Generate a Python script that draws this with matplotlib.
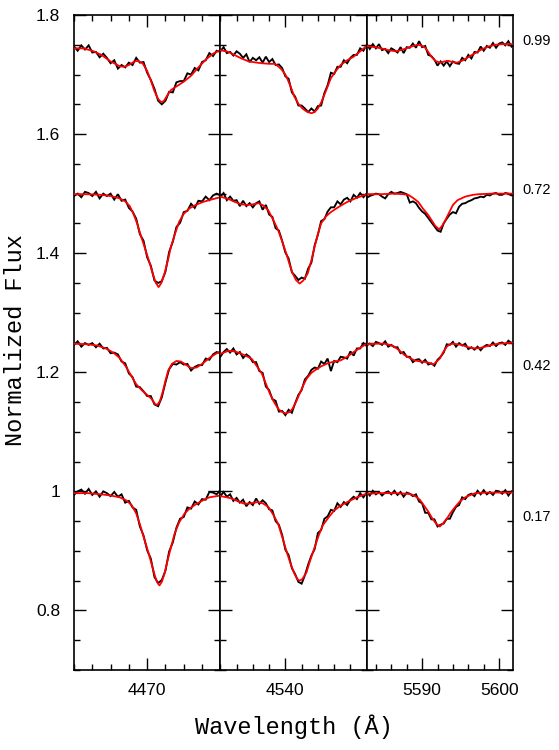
import numpy as np
import matplotlib
matplotlib.use("Agg")
import matplotlib.pyplot as plt
from matplotlib.ticker import MultipleLocator, FixedLocator, FuncFormatter
import matplotlib.transforms as mtransforms

plt.rcParams['font.family'] = ['Liberation Sans', 'DejaVu Sans']

# ---------------- data ----------------
phases = ["0.99", "0.72", "0.42", "0.17"]
phase_label_y = [1.757, 1.506, 1.210, 0.957]

panel_xlim = [(4462.0, 4478.0), (4532.0, 4550.0), (5582.8, 5601.8)]
panel_major_ticks = [[4470], [4540], [5590, 5600]]

# observed pixel grids (0.4 A sampling)
obs_w1 = np.round(np.arange(4462.0, 4478.001, 0.4), 1)
obs_w2 = np.round(np.arange(4532.0, 4550.001, 0.4), 1)
obs_w3 = np.round(np.arange(5582.8, 5602.001, 0.4), 1)

# ---- He I 4471 panel ----
obs1_099 = [1.747,1.740,1.749,1.742,1.749,1.737,1.738,1.729,1.735,1.728,1.719,1.724,1.710,1.716,1.712,1.720,1.716,1.728,1.720,1.721,
            1.703,1.691,1.676,1.656,1.650,1.656,1.671,1.670,1.687,1.689,1.689,1.702,1.700,1.711,1.707,1.721,1.724,1.736,1.731,1.740,1.738]
obs1_072 = [1.496,1.500,1.494,1.503,1.501,1.496,1.503,1.492,1.500,1.496,1.500,1.490,1.499,1.488,1.490,1.476,1.470,1.458,1.432,1.421,
            1.393,1.379,1.354,1.350,1.353,1.369,1.402,1.419,1.444,1.451,1.469,1.471,1.483,1.476,1.488,1.487,1.495,1.489,1.497,1.500,1.497]
obs1_042 = [1.246,1.252,1.243,1.249,1.246,1.249,1.242,1.248,1.240,1.241,1.232,1.233,1.230,1.218,1.215,1.198,1.192,1.176,1.175,1.168,
            1.160,1.160,1.146,1.143,1.158,1.183,1.205,1.214,1.213,1.217,1.213,1.214,1.203,1.209,1.212,1.212,1.223,1.221,1.230,1.234,1.232]
obs1_017 = [0.994,1.000,1.003,0.996,1.004,0.994,1.000,0.991,1.000,0.997,0.992,0.999,0.991,0.995,0.981,0.984,0.973,0.969,0.941,0.926,
            0.901,0.887,0.856,0.846,0.851,0.867,0.899,0.914,0.939,0.954,0.957,0.973,0.971,0.983,0.978,0.987,0.986,0.999,0.998,0.995,1.002]

mod1_099_w = [4462.0,4463.0,4464.0,4465.0,4466.0,4467.0,4467.5,4468.0,4468.6,4469.0,4469.5,4470.0,4470.4,4470.8,4471.2,4471.5,4471.8,
              4472.2,4472.6,4473.2,4474.0,4474.8,4475.6,4476.4,4477.2,4478.0]
mod1_099_f = [1.744,1.744,1.740,1.733,1.722,1.714,1.713,1.716,1.722,1.723,1.719,1.706,1.690,1.672,1.659,1.654,1.655,
              1.665,1.674,1.680,1.688,1.698,1.712,1.725,1.735,1.741]
mod1_072_w = [4462.0,4463.5,4465.0,4466.0,4467.0,4467.6,4468.1,4468.5,4468.9,4469.3,4469.7,4470.2,4470.6,4470.95,4471.25,4471.55,
              4471.9,4472.3,4472.6,4473.1,4473.5,4474.0,4474.6,4475.3,4476.1,4477.0,4478.0]
mod1_072_f = [1.499,1.499,1.498,1.496,1.492,1.487,1.479,1.466,1.450,1.430,1.411,1.387,1.366,1.350,1.343,1.350,
              1.366,1.390,1.411,1.435,1.453,1.466,1.475,1.481,1.486,1.490,1.494]
mod1_042_w = [4462.0,4463.5,4464.5,4465.5,4466.3,4467.0,4467.7,4468.3,4468.8,4469.4,4470.0,4470.5,4470.85,4471.1,4471.4,4471.7,
              4472.0,4472.3,4472.7,4473.2,4473.7,4474.2,4474.8,4475.4,4476.1,4476.8,4477.5,4478.0]
mod1_042_f = [1.248,1.247,1.245,1.240,1.233,1.224,1.209,1.193,1.180,1.170,1.162,1.155,1.147,1.145,1.152,1.167,
              1.186,1.203,1.214,1.219,1.218,1.213,1.207,1.208,1.215,1.224,1.231,1.235]
mod1_017_w = [4462.0,4463.5,4465.0,4466.0,4467.0,4467.7,4468.3,4468.8,4469.2,4469.6,4470.1,4470.5,4470.85,4471.1,4471.35,4471.6,
              4471.9,4472.2,4472.6,4473.0,4473.5,4474.1,4474.7,4475.4,4476.1,4476.8,4478.0]
mod1_017_f = [0.997,0.997,0.995,0.993,0.990,0.985,0.977,0.963,0.945,0.924,0.899,0.877,0.858,0.847,0.842,0.848,
              0.862,0.882,0.906,0.929,0.948,0.963,0.972,0.979,0.985,0.990,0.993]

# ---- He II 4541 panel ----
obs2_099 = [1.739,1.746,1.736,1.738,1.732,1.739,1.735,1.728,1.734,1.721,1.728,1.724,1.729,1.720,1.730,1.721,1.726,1.716,1.717,1.711,
            1.697,1.693,1.670,1.663,1.648,1.648,1.643,1.637,1.643,1.638,1.647,1.648,1.669,1.682,1.703,1.701,1.713,1.713,1.724,1.719,
            1.728,1.733,1.733,1.744,1.740,1.750]
obs2_072 = [1.495,1.501,1.489,1.495,1.488,1.489,1.479,1.488,1.479,1.484,1.477,1.484,1.487,1.473,1.481,1.465,1.461,1.442,1.438,1.421,
            1.401,1.391,1.368,1.362,1.355,1.359,1.357,1.374,1.384,1.413,1.431,1.454,1.457,1.470,1.477,1.477,1.487,1.482,1.490,1.493,
            1.487,1.498,1.493,1.501,1.494,1.500]
obs2_042 = [1.226,1.234,1.239,1.233,1.240,1.230,1.234,1.224,1.230,1.226,1.217,1.217,1.202,1.199,1.176,1.170,1.155,1.152,1.134,1.135,
            1.128,1.137,1.132,1.148,1.162,1.170,1.188,1.194,1.204,1.208,1.206,1.218,1.214,1.223,1.202,1.219,1.217,1.226,1.225,1.223,
            1.235,1.228,1.240,1.240,1.249,1.244]
obs2_017 = [0.992,0.999,0.991,0.995,0.984,0.989,0.981,0.986,0.975,0.982,0.977,0.988,0.979,0.985,0.980,0.970,0.968,0.950,0.944,0.927,
            0.902,0.893,0.871,0.861,0.848,0.845,0.859,0.877,0.892,0.903,0.930,0.935,0.954,0.958,0.969,0.967,0.980,0.974,0.982,0.977,
            0.986,0.991,0.987,0.997,0.990,0.998]

mod2_099_w = [4532.0,4533.0,4534.0,4534.6,4535.5,4536.5,4537.1,4538.0,4538.7,4539.1,4539.5,4540.0,4540.3,4540.7,4541.1,4541.6,
              4542.1,4542.6,4543.2,4543.6,4544.0,4544.4,4544.8,4545.2,4545.6,4546.2,4546.8,4547.6,4548.4,4549.2,4550.0]
mod2_099_f = [1.741,1.738,1.731,1.727,1.722,1.720,1.719,1.718,1.718,1.714,1.709,1.700,1.691,1.678,1.663,1.651,
              1.643,1.638,1.635,1.637,1.643,1.653,1.666,1.680,1.694,1.706,1.716,1.724,1.730,1.739,1.748]
mod2_072_w = [4532.0,4533.0,4533.8,4534.6,4535.4,4536.0,4536.7,4537.3,4537.9,4538.5,4539.1,4539.6,4540.1,4540.5,4540.9,4541.3,
              4541.75,4542.2,4542.75,4543.2,4543.6,4544.0,4544.4,4545.0,4545.6,4546.6,4547.6,4548.6,4550.0]
mod2_072_f = [1.495,1.491,1.486,1.482,1.481,1.482,1.484,1.480,1.472,1.456,1.439,1.420,1.400,1.382,1.366,1.355,
              1.349,1.354,1.366,1.388,1.411,1.432,1.450,1.462,1.469,1.478,1.486,1.492,1.499]
mod2_042_w = [4532.0,4533.0,4533.8,4534.6,4535.4,4535.9,4536.5,4537.1,4537.6,4538.1,4538.6,4539.1,4539.5,4540.0,4540.5,4540.9,
              4541.3,4541.75,4542.2,4542.6,4543.2,4543.6,4544.4,4545.2,4546.0,4546.8,4547.6,4548.4,4549.2,4550.0]
mod2_042_f = [1.231,1.236,1.235,1.231,1.226,1.222,1.210,1.198,1.181,1.164,1.150,1.139,1.134,1.131,1.133,1.139,
              1.150,1.164,1.178,1.189,1.199,1.203,1.210,1.215,1.218,1.220,1.226,1.234,1.241,1.248]
mod2_017_w = [4532.0,4532.8,4533.4,4534.2,4535.0,4535.8,4536.6,4537.2,4537.9,4538.5,4539.1,4539.6,4540.1,4540.6,4541.1,4541.45,
              4541.75,4542.1,4542.6,4543.0,4543.6,4544.1,4544.6,4545.3,4546.0,4546.8,4547.6,4548.8,4550.0]
mod2_017_f = [0.992,0.990,0.988,0.983,0.979,0.980,0.982,0.980,0.974,0.961,0.946,0.924,0.901,0.880,0.862,0.853,
              0.850,0.853,0.864,0.882,0.906,0.926,0.943,0.956,0.968,0.976,0.982,0.990,0.996]

# ---- O III 5592 panel ----
obs3_099 = [1.751,1.743,1.751,1.744,1.751,1.741,1.743,1.736,1.744,1.741,1.737,1.746,1.736,1.746,1.745,1.752,1.745,1.756,1.746,1.748,
            1.733,1.731,1.725,1.715,1.722,1.715,1.722,1.714,1.722,1.719,1.718,1.728,1.724,1.733,1.727,1.738,1.737,1.747,1.740,1.748,
            1.745,1.753,1.745,1.752,1.754,1.749,1.756,1.747,1.753]
obs3_072 = [1.493,1.496,1.498,1.500,1.499,1.495,1.492,1.499,1.503,1.500,1.501,1.503,1.501,1.499,1.485,1.487,1.484,1.476,1.470,1.466,
            1.459,1.452,1.445,1.438,1.436,1.450,1.458,1.465,1.469,1.467,1.478,1.483,1.484,1.487,1.489,1.492,1.493,1.495,1.494,1.498,
            1.497,1.500,1.501,1.498,1.498,1.501,1.500,1.497,1.499]
obs3_042 = [1.245,1.248,1.244,1.251,1.249,1.246,1.252,1.243,1.246,1.242,1.242,1.232,1.234,1.226,1.226,1.217,1.221,1.222,1.216,1.221,
            1.213,1.215,1.211,1.221,1.226,1.233,1.247,1.246,1.251,1.243,1.249,1.245,1.248,1.239,1.242,1.238,1.243,1.237,1.243,1.246,
            1.244,1.250,1.244,1.249,1.250,1.246,1.253,1.249,1.254]
obs3_017 = [0.999,0.993,1.001,0.995,0.999,0.993,0.998,1.000,0.995,1.001,0.994,0.999,0.991,0.998,0.996,0.992,0.995,0.983,0.980,0.964,
            0.964,0.953,0.953,0.941,0.944,0.946,0.954,0.954,0.965,0.974,0.977,0.990,0.987,0.994,0.996,0.992,1.001,0.995,1.002,0.995,
            0.999,0.994,1.001,1.000,0.996,1.002,0.993,1.000,0.997]

mod3_099_w = [5582.8,5583.8,5584.7,5585.6,5586.6,5587.5,5588.6,5589.4,5589.9,5590.4,5590.8,5591.2,5591.7,5592.3,5592.9,5593.4,
              5593.9,5594.5,5595.0,5595.6,5596.2,5596.9,5597.7,5598.6,5599.5,5600.4,5602.0]
mod3_099_f = [1.748,1.746,1.744,1.741,1.739,1.742,1.747,1.750,1.749,1.745,1.738,1.730,1.723,1.720,1.722,1.723,
              1.721,1.720,1.722,1.726,1.731,1.736,1.742,1.747,1.750,1.751,1.751]
mod3_072_w = [5582.8,5584.5,5586.4,5587.5,5588.2,5588.8,5589.5,5590.1,5590.8,5591.3,5591.7,5592.2,5592.6,5593.0,5593.5,5594.0,
              5594.6,5595.6,5596.6,5597.3,5599.0,5602.0]
mod3_072_f = [1.499,1.499,1.500,1.499,1.498,1.493,1.486,1.475,1.464,1.454,1.446,1.440,1.446,1.455,1.468,1.481,
              1.489,1.495,1.498,1.499,1.500,1.500]
mod3_042_w = [5582.8,5584.0,5585.1,5585.8,5586.4,5587.1,5587.7,5588.4,5589.0,5589.8,5590.6,5591.1,5591.45,5591.8,5592.3,5592.7,
              5593.2,5593.6,5594.0,5594.6,5595.1,5596.0,5596.9,5597.6,5598.2,5599.0,5599.9,5601.0,5602.0]
mod3_042_f = [1.247,1.248,1.248,1.246,1.243,1.236,1.229,1.224,1.220,1.218,1.217,1.215,1.213,1.217,1.223,1.233,
              1.243,1.247,1.248,1.247,1.246,1.242,1.240,1.241,1.243,1.246,1.248,1.249,1.250]
mod3_017_w = [5582.8,5584.5,5586.4,5588.0,5588.6,5589.2,5589.7,5590.2,5590.8,5591.3,5591.8,5592.3,5592.7,5593.2,5593.7,5594.3,
              5594.9,5595.6,5596.3,5596.9,5598.5,5602.0]
mod3_017_f = [0.996,0.997,0.997,0.996,0.995,0.991,0.986,0.977,0.966,0.955,0.946,0.941,0.946,0.954,0.964,0.974,
              0.983,0.990,0.994,0.997,0.998,0.998]

# table built from the named lists
panels = [
    dict(obs_w=obs_w1, obs=[obs1_099, obs1_072, obs1_042, obs1_017],
         mod=[(mod1_099_w, mod1_099_f), (mod1_072_w, mod1_072_f), (mod1_042_w, mod1_042_f), (mod1_017_w, mod1_017_f)]),
    dict(obs_w=obs_w2, obs=[obs2_099, obs2_072, obs2_042, obs2_017],
         mod=[(mod2_099_w, mod2_099_f), (mod2_072_w, mod2_072_f), (mod2_042_w, mod2_042_f), (mod2_017_w, mod2_017_f)]),
    dict(obs_w=obs_w3, obs=[obs3_099, obs3_072, obs3_042, obs3_017],
         mod=[(mod3_099_w, mod3_099_f), (mod3_072_w, mod3_072_f), (mod3_042_w, mod3_042_f), (mod3_017_w, mod3_017_f)]),
]

# ---------------- figure ----------------
W, H = 559, 750
fig = plt.figure(figsize=(W / 100, H / 100), dpi=100)

left_px, right_px, top_px, bot_px = 74, 513, 15, 670
pw = (right_px - left_px) / 3.0
axes = []
for i in range(3):
    ax = fig.add_axes([(left_px + i * pw) / W, 1 - bot_px / H, pw / W, (bot_px - top_px) / H])
    axes.append(ax)

for i, (ax, p) in enumerate(zip(axes, panels)):
    for obs, (mw, mf) in zip(p["obs"], p["mod"]):
        ax.plot(p["obs_w"], obs, color="black", lw=1.35, solid_joinstyle="miter", zorder=2)
        ax.plot(mw, mf, color="red", lw=1.3, zorder=3)
    ax.set_xlim(*panel_xlim[i])
    ax.set_ylim(0.7, 1.8)
    ax.xaxis.set_major_locator(FixedLocator(panel_major_ticks[i]))
    ax.xaxis.set_minor_locator(MultipleLocator(2))
    ax.yaxis.set_major_locator(MultipleLocator(0.2))
    ax.yaxis.set_minor_locator(MultipleLocator(0.05))
    ax.yaxis.set_major_formatter(FuncFormatter(lambda v, pos: f"{v:g}"))
    ax.tick_params(which="both", direction="in", top=True, right=True, width=1.0, colors="black")
    ax.tick_params(which="major", length=8.5)
    ax.tick_params(which="minor", length=4.5)
    ax.tick_params(axis="x", which="major", labelsize=12.5, pad=9.5)
    ax.tick_params(axis="y", which="major", labelsize=12.5, pad=10)
    if i > 0:
        ax.tick_params(axis="y", labelleft=False)
    for s in ax.spines.values():
        s.set_linewidth(1.2)

trans = mtransforms.blended_transform_factory(axes[2].transAxes, axes[2].transData)
for lab, yv in zip(phases, phase_label_y):
    axes[2].text(1.062, yv, lab, transform=trans, ha="left", va="center", fontsize=10.5, clip_on=False)

fig.text(293.5 / W, 1 - 727 / H, "Wavelength (Å)", ha="center", va="center",
         family=["Liberation Mono", "DejaVu Sans Mono"], fontsize=17)
fig.text(16 / W, 1 - 340 / H, "Normalized Flux", ha="center", va="center", rotation=90,
         family=["Liberation Mono", "DejaVu Sans Mono"], fontsize=17)

fig.savefig("out.png", dpi=100)
